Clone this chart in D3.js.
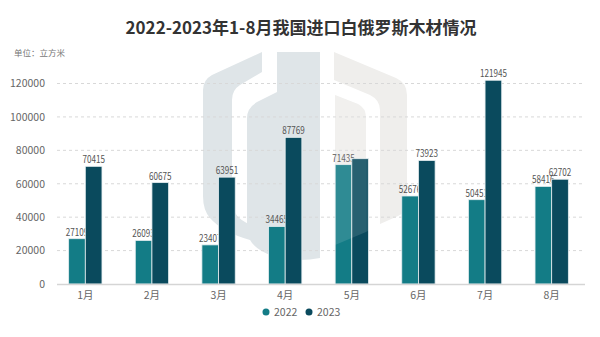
<!DOCTYPE html>
<html><head><meta charset="utf-8">
<script src="https://cdn.jsdelivr.net/npm/d3@7/dist/d3.min.js"></script>
<style>body{margin:0;background:#fff}svg{display:block}text{font-family:"Noto Sans CJK SC","Noto Sans",sans-serif}</style>
</head><body><svg id="c" width="600" height="337"></svg>
<script>
const months = ["1月","2月","3月","4月","5月","6月","7月","8月"];
const series = ["2022","2023"];
const v2022 = [27109,26093,23407,34465,71435,52676,50451,58416];
const v2023 = [70415,60675,63951,87769,75000,73923,121945,62702];
const showLabel2023 = [true,true,true,true,false,true,true,true];
const yTicks = [0,20000,40000,60000,80000,100000,120000];
const colors = ["#137c86","#0a4a5d"];

const svg = d3.select("#c");
const m = {l:52, r:15};
const W = 600;
const x = d3.scaleBand().domain(months).range([m.l, W-m.r]).paddingInner(0.5).paddingOuter(0.25);
const xs = d3.scaleBand().domain(series).range([0, x.bandwidth()]);
const y = d3.scaleLinear().domain([0,120000]).range([284, 83.5]);

// watermark (behind)
const wm = svg.append("g");
const cA = "#dfe5e8", cB = "#efeeec";
wm.append("path").attr("d","M203,90 Q203,80 212,75 L262,52 L262,72 L240,85 Q232,90 232,100 L232,200 Q232,215 245,222 L250,225 L250,240 Q222,232 210,218 Q203,210 203,196 Z").attr("fill",cA);
wm.append("path").attr("d","M247,118 Q247,108 257,102 L277,92 L277,52 L320,52 L320,258 Q300,262 280,258 Q247,250 247,228 Z").attr("fill",cA);
wm.append("path").attr("d","M334,52 L396,78 Q407,83 407,95 L407,200 Q407,212 398,216 L380,224 L380,110 Q380,100 370,95 L334,80 Z").attr("fill",cB);
wm.append("path").attr("d","M335,95 L358,104 Q366,108 366,118 L366,232 L335,245 Z").attr("fill",cB);

// title
svg.append("text").attr("x",301).attr("y",34).attr("text-anchor","middle")
  .attr("font-size",17).attr("font-weight","bold").attr("fill","#333")
  .text("2022-2023年1-8月我国进口白俄罗斯木材情况");
svg.append("text").attr("x",14).attr("y",56).attr("font-size",8.5).attr("fill","#777").text("单位：立方米");

// grid
svg.append("g").selectAll("line").data(yTicks.slice(1)).join("line")
  .attr("x1",m.l+5).attr("x2",W-m.r).attr("y1",d=>y(d)).attr("y2",d=>y(d))
  .attr("stroke","#d8d8d8").attr("stroke-dasharray","3,3");
const ya = svg.append("g").attr("transform",`translate(${m.l-4},0)`)
  .call(d3.axisLeft(y).tickValues(yTicks).tickFormat(d3.format("d")).tickSize(0));
ya.select(".domain").remove();
ya.selectAll("text").attr("font-size",10.5).attr("fill","#666").attr("font-family","'Open Sans',sans-serif");

// bars and labels: 2022 bar, 2022 label, 2023 bar, 2023 label
const g = svg.append("g");
const vals = [v2022, v2023];
months.forEach((mo,i)=>{
  vals.forEach((arr,j)=>{
    const v = arr[i];
    const bx = x(mo)+xs(series[j]);
    g.append("rect").attr("x",bx).attr("width",xs.bandwidth())
      .attr("y",y(v)).attr("height",y(0)-y(v)).attr("fill",colors[j])
      .attr("stroke","#e6eef0").attr("stroke-width",0.8);
    if(j===0 || showLabel2023[i]) {
      const s = String(v);
      g.append("text").attr("x",bx+xs.bandwidth()/2).attr("y",y(v)-3)
        .attr("text-anchor","middle").attr("font-size",10).attr("fill","#555")
        .attr("font-family","'Open Sans',sans-serif")
        .attr("textLength", s.length*4.5).attr("lengthAdjust","spacingAndGlyphs").text(s);
    }
  });
});
// faint watermark over bars
svg.append("path").attr("d","M335,95 L358,104 Q366,108 366,118 L366,232 L335,245 Z").attr("fill","#fff").attr("opacity",0.12);
svg.append("path").attr("d","M366,104 L380,110 L380,224 L366,232 Z").attr("fill","#fff").attr("opacity",0.1);

// x axis
svg.append("line").attr("x1",m.l+5).attr("x2",W-m.r).attr("y1",y(0)+0.5).attr("y2",y(0)+0.5).attr("stroke","#d5d5d5").attr("stroke-width",1.5);
svg.append("g").selectAll("text").data(months).join("text")
  .attr("x",d=>x(d)+x.bandwidth()/2).attr("y",299).attr("text-anchor","middle")
  .attr("font-size",10.5).attr("fill","#666").text(d=>d);

// legend
const lg = svg.append("g");
series.forEach((s,i)=>{
  const lx = 266 + i*43;
  lg.append("circle").attr("cx",lx).attr("cy",312).attr("r",3.5).attr("fill",colors[i]);
  lg.append("text").attr("x",lx+8).attr("y",316).attr("font-size",10.5).attr("fill","#666").attr("font-family","'Open Sans',sans-serif").text(s);
});
</script></body></html>
